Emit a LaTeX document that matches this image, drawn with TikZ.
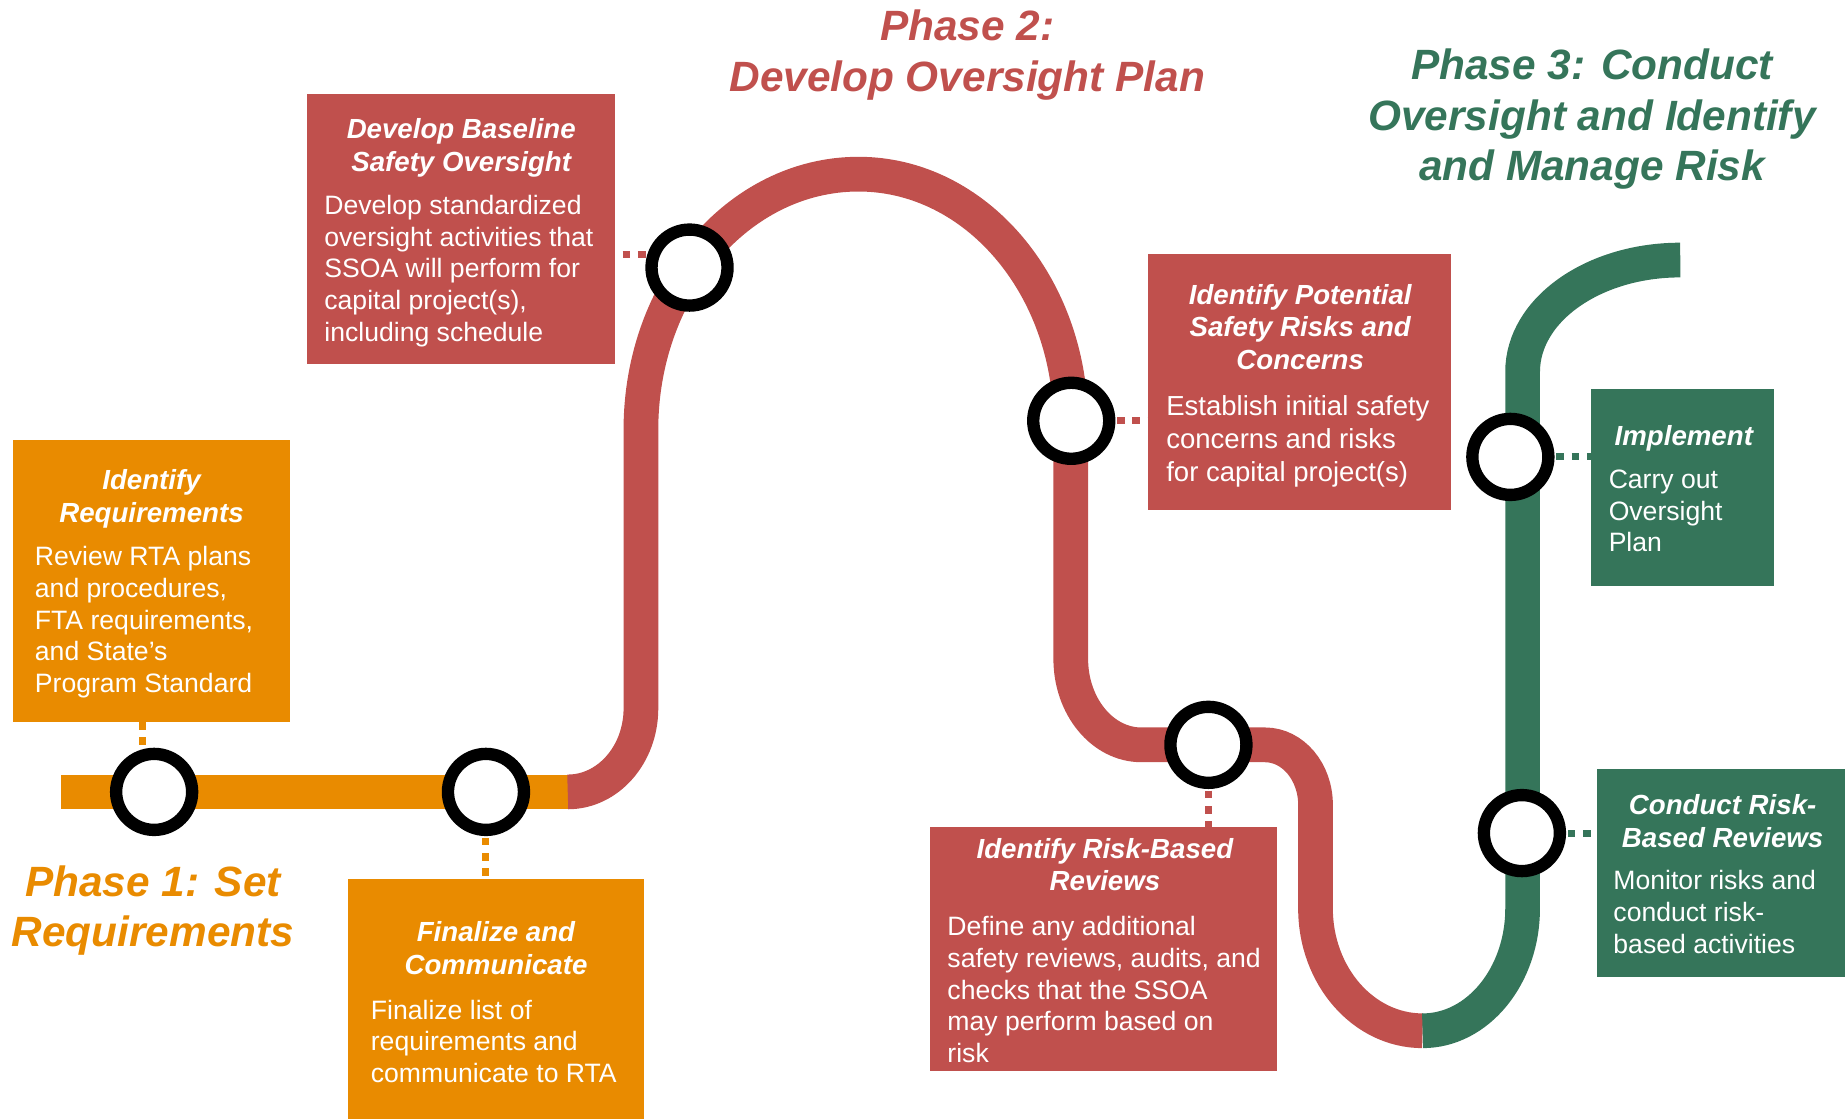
\documentclass[tikz,border=0pt]{standalone}
\usepackage{fontspec}
\setmainfont{Liberation Sans}
\definecolor{cOr}{RGB}{233,139,0}
\definecolor{cRd}{RGB}{192,80,77}
\definecolor{cGr}{RGB}{53,117,90}
\pgfdeclarelayer{trk}
\pgfdeclarelayer{lnk}
\pgfsetlayers{trk,lnk,main}
\newcommand\ttlfont{\fontsize{23.5}{27.8}\selectfont\bfseries\itshape}
\newcommand\bodyfont{\fontsize{22.6}{27}\selectfont}
\newcommand\bigbodyfont{\fontsize{23.4}{28}\selectfont}
\newcommand\phfont{\fontsize{36}{43}\selectfont\bfseries\itshape}
\newcommand\tS{\rule{0pt}{21pt}}
\newcommand\bS{\rule{0pt}{20pt}}
\newcommand\pS{\rule{0pt}{32pt}}
\tikzset{
 trackline/.style={line width=29.5pt, line cap=butt},
 stopring/.style={circle, draw=black, line width=10.5pt, fill=white, minimum size=64.6pt, inner sep=0pt},
 panel/.style={anchor=north west, inner sep=0pt, outer sep=0pt, draw=none},
 ttltext/.style={anchor=north, inner sep=0pt, text=white, align=center, font=\ttlfont},
 bodytext/.style={anchor=north west, inner sep=0pt, text=white, align=left, font=\bodyfont},
 phasetext/.style={anchor=north, inner sep=0pt, align=center, font=\phfont},
 linkdots/.style={line width=6pt, dash pattern=on 6.5pt off 6.5pt},
}
\begin{document}
\begin{tikzpicture}[x=1pt,y=-1pt]
\useasboundingbox (0,0) rectangle (1568,951);

% tracks
\begin{pgfonlayer}{trk}
\draw[trackline, cOr] (52,673) -- (482.5,673);
\draw[trackline, cRd] (482.5,673) .. controls (516.9,673) and (544.7,641.2) .. (544.7,602)
  -- (544.7,365) .. controls (544.7,245.2) and (627.5,148) .. (729.6,148)
  .. controls (829.2,148) and (910,242.9) .. (910,360)
  -- (910,560) .. controls (910,600.3) and (936.9,633) .. (970,633)
  -- (1075,633) .. controls (1098.7,633) and (1118,655.8) .. (1118,684)
  -- (1118,772) .. controls (1118,829.4) and (1158.7,876) .. (1209,876);
\draw[trackline, cGr] (1209,876) .. controls (1255.9,876) and (1294,829.4) .. (1294,772)
  -- (1294,316) .. controls (1294,263.5) and (1354,221) .. (1428,221);
\end{pgfonlayer}

% panels
\node[panel, fill=cOr, minimum width=235.5pt, minimum height=239.5pt] (irbox) at (11,374) {};
\node[panel, fill=cOr, minimum width=251pt, minimum height=204pt] (fcbox) at (296,747) {};
\node[panel, fill=cRd, minimum width=261.7pt, minimum height=229.6pt] (dbbox) at (261,80) {};
\node[panel, fill=cRd, minimum width=257pt, minimum height=217.5pt] (ipbox) at (976,216) {};
\node[panel, fill=cGr, minimum width=155.6pt, minimum height=167.1pt] (imbox) at (1352,330.7) {};
\node[panel, fill=cGr, minimum width=211pt, minimum height=176.5pt] (crbox) at (1357,653.5) {};
\node[panel, fill=cRd, minimum width=295pt, minimum height=207.2pt] (rbbox) at (790,702.8) {};

% stops
\node[stopring] (c1) at (131,673) {};
\node[stopring] (c2) at (413,673) {};
\node[stopring] (c3) at (586,227.4) {};
\node[stopring] (c4) at (910.4,357.6) {};
\node[stopring] (c5) at (1027,633) {};
\node[stopring] (c6) at (1283.6,388.3) {};
\node[stopring] (c7) at (1293.4,708) {};

% dotted links
\begin{pgfonlayer}{lnk}
\draw[linkdots, cOr] ([xshift=-7.3pt]irbox.south) -- ([xshift=-7.3pt]irbox.south |- c1.center);
\draw[linkdots, cOr] (c2.center) -- (c2.center |- fcbox.north);
\draw[linkdots, cRd, dash phase=6.5pt] ([yshift=-21.2pt]dbbox.east) -- ([yshift=-21.2pt]dbbox.east -| c3.center);
\draw[linkdots, cRd] (c4.center) -- (c4.center -| ipbox.west);
\draw[linkdots, cRd] (c5.center) -- (c5.center |- rbbox.north);
\draw[linkdots, cGr] (c6.center) -- (c6.center -| imbox.west);
\draw[linkdots, cGr] (c7.center) -- (c7.center -| crbox.west);
\end{pgfonlayer}

% panel texts
\node[ttltext] (irttl) at (128.75,394.8) {\tS Identify\\Requirements};
\node[bodytext] (irtxt) at (29.5,460.5) {\bS Review RTA plans\\and procedures,\\FTA requirements,\\and State’s\\Program Standard};

\node[ttltext] (fcttl) at (421.5,779.2) {\tS Finalize and\\Communicate};
\node[bodytext] (fctxt) at (315,845.9) {\bS Finalize list of\\requirements and\\communicate to RTA};

\node[ttltext] (dbttl) at (392,96.4) {\tS Develop Baseline\\Safety Oversight};
\node[bodytext] (dbtxt) at (275.5,162) {\bS Develop standardized\\oversight activities that\\SSOA will perform for\\capital project(s),\\including schedule};

\node[ttltext] (ipttl) at (1105,237.2) {\tS Identify Potential\\Safety Risks and\\Concerns};
\node[bodytext, font=\bigbodyfont] (iptxt) at (991,332.9) {\bS Establish initial safety\\concerns and risks\\for capital project(s)};

\node[ttltext] (imttl) at (1431,357.2) {\tS Implement};
\node[bodytext] (imtxt) at (1367,394.9) {\bS Carry out\\Oversight\\Plan};

\node[ttltext] (crttl) at (1464,671.2) {\tS Conduct Risk-\\Based Reviews};
\node[bodytext] (crtxt) at (1371,735.9) {\bS Monitor risks and\\conduct risk-\\based activities};

\node[ttltext] (rbttl) at (939,708.2) {\tS Identify Risk-Based\\Reviews};
\node[bodytext] (rbtxt) at (805,774.9) {\bS Define any additional\\safety reviews, audits, and\\checks that the SSOA\\may perform based on\\risk};

% phase titles
\node[phasetext, text=cRd] (ph2) at (822,2.6) {\pS Phase 2:\\Develop Oversight Plan};
\node[phasetext, text=cGr] (ph3) at (1353,35.6) {\pS Phase 3: Conduct\\Oversight and Identify\\and Manage Risk};
\node[phasetext, text=cOr] (ph1) at (130,729.6) {\pS Phase 1: Set\\Requirements};
\end{tikzpicture}
\end{document}
